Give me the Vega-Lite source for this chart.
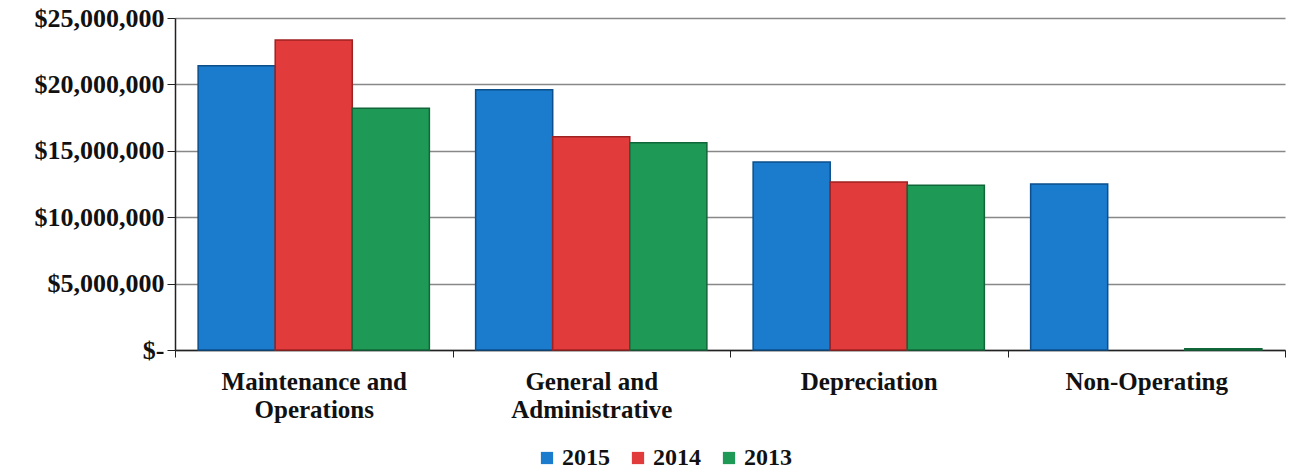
{
  "$schema": "https://vega.github.io/schema/vega-lite/v6.json",
  "width": 1110,
  "height": 332,
  "autosize": {"type": "none"},
  "padding": {"left": 175, "top": 18, "right": 4, "bottom": 124},
  "background": "white",
  "data": {
    "values": [
      {"category": "Maintenance and Operations", "year": "2015", "value": 21400000},
      {"category": "Maintenance and Operations", "year": "2014", "value": 23350000},
      {"category": "Maintenance and Operations", "year": "2013", "value": 18200000},
      {"category": "General and Administrative", "year": "2015", "value": 19600000},
      {"category": "General and Administrative", "year": "2014", "value": 16050000},
      {"category": "General and Administrative", "year": "2013", "value": 15600000},
      {"category": "Depreciation", "year": "2015", "value": 14150000},
      {"category": "Depreciation", "year": "2014", "value": 12650000},
      {"category": "Depreciation", "year": "2013", "value": 12400000},
      {"category": "Non-Operating", "year": "2015", "value": 12500000},
      {"category": "Non-Operating", "year": "2013", "value": 100000}
    ]
  },
  "mark": {"type": "bar", "strokeWidth": 1.5},
  "encoding": {
    "x": {
      "field": "category",
      "type": "nominal",
      "sort": ["Maintenance and Operations", "General and Administrative", "Depreciation", "Non-Operating"],
      "scale": {"paddingInner": 0, "paddingOuter": 0},
      "axis": {
        "title": null,
        "labelAngle": 0,
        "tickBand": "extent",
        "labelLimit": 0,
        "labelExpr": "datum.value == 'Maintenance and Operations' ? ['Maintenance and', 'Operations'] : datum.value == 'General and Administrative' ? ['General and', 'Administrative'] : datum.value",
        "labelFont": "Liberation Serif",
        "labelFontWeight": "bold",
        "labelFontSize": 25,
        "labelColor": "#111",
        "labelPadding": 12,
        "labelLineHeight": 28,
        "domainColor": "#222",
        "domainWidth": 1.5,
        "tickColor": "#222",
        "tickSize": 7,
        "grid": false
      }
    },
    "xOffset": {
      "field": "year",
      "type": "nominal",
      "sort": ["2015", "2014", "2013"],
      "scale": {"domain": ["2015", "2014", "2013"], "paddingInner": 0, "paddingOuter": 0.3}
    },
    "y": {
      "field": "value",
      "type": "quantitative",
      "scale": {"domain": [0, 25000000]},
      "axis": {
        "title": null,
        "values": [0, 5000000, 10000000, 15000000, 20000000, 25000000],
        "labelExpr": "datum.value == 0 ? '$-' : '$' + format(datum.value, ',')",
        "labelFont": "Liberation Serif",
        "labelFontWeight": "bold",
        "labelFontSize": 26,
        "labelColor": "#111",
        "labelPadding": 3,
        "domainColor": "#222",
        "domainWidth": 1.5,
        "tickColor": "#222",
        "tickSize": 8,
        "gridColor": "#888",
        "gridWidth": 1.5
      }
    },
    "color": {
      "field": "year",
      "type": "nominal",
      "sort": ["2015", "2014", "2013"],
      "scale": {"domain": ["2015", "2014", "2013"], "range": ["#1b7bcc", "#e23b3b", "#1e9a56"]},
      "legend": {
        "title": null,
        "orient": "none",
        "legendX": 360,
        "legendY": 428,
        "direction": "horizontal",
        "symbolType": "square",
        "symbolSize": 150,
        "symbolStrokeWidth": 0,
        "labelFont": "Liberation Serif",
        "labelFontWeight": "bold",
        "labelFontSize": 24,
        "labelColor": "#111",
        "labelOffset": 3,
        "columnPadding": 16
      }
    },
    "stroke": {
      "field": "year",
      "type": "nominal",
      "scale": {"domain": ["2015", "2014", "2013"], "range": ["#0d4f8a", "#9e2222", "#106638"]},
      "legend": null
    }
  },
  "config": {"view": {"stroke": null}}
}
